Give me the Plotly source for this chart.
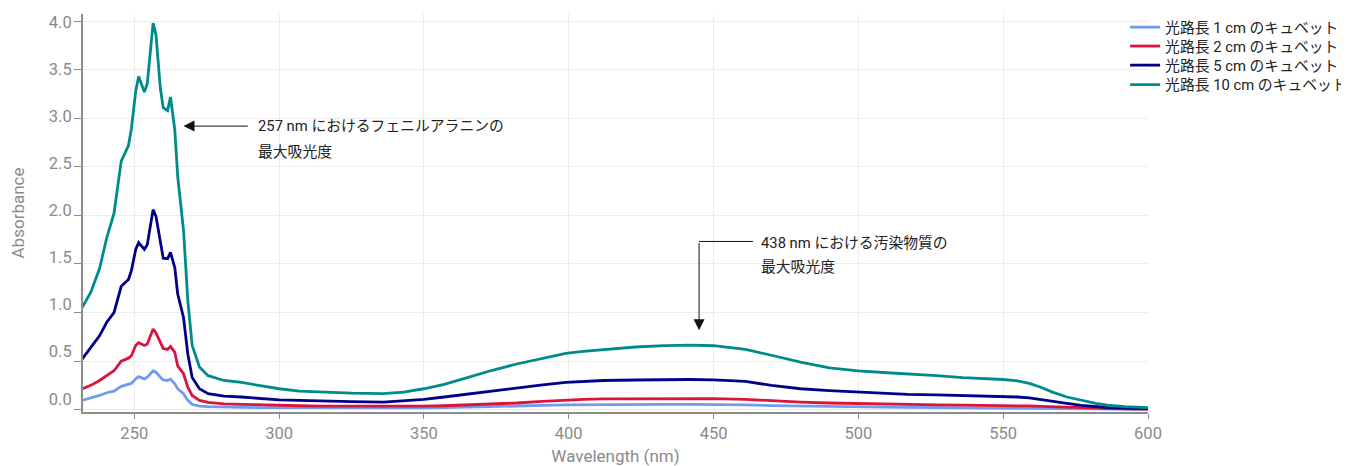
import plotly.graph_objects as go

wavelength = [232, 235, 238, 240.5, 243, 245.5, 248, 249, 250.5, 251.5, 253.5, 254.5,
              256.5, 257.5, 259, 260, 261.5, 262.5, 264, 265, 267, 268.5, 270, 272.5,
              275.5, 281, 287, 293, 300, 307, 315, 325, 336, 343, 350, 357, 365, 373,
              382, 391, 399, 405, 412, 423, 433, 442, 450, 461, 470, 480, 490, 500,
              510, 517, 527, 536, 543, 550, 555, 559, 563, 567, 572, 577, 582, 586,
              592, 600]

abs_1cm = [0.095, 0.12, 0.146, 0.174, 0.19, 0.24, 0.265, 0.27, 0.317, 0.34, 0.317, 0.334,
           0.40, 0.385, 0.334, 0.307, 0.30, 0.313, 0.265, 0.215, 0.164, 0.095, 0.054, 0.037,
           0.03, 0.025, 0.023, 0.021, 0.02, 0.019, 0.018, 0.018, 0.017, 0.017, 0.018, 0.02,
           0.024, 0.03, 0.036, 0.043, 0.049, 0.051, 0.053, 0.054, 0.055, 0.054, 0.053, 0.048,
           0.042, 0.036, 0.031, 0.027, 0.025, 0.023, 0.022, 0.021, 0.02, 0.02, 0.019, 0.017,
           0.014, 0.012, 0.01, 0.008, 0.006, 0.005, 0.004, 0.003]

abs_2cm = [0.215, 0.25, 0.30, 0.35, 0.40, 0.50, 0.53, 0.555, 0.66, 0.69, 0.66, 0.675,
           0.83, 0.79, 0.69, 0.63, 0.62, 0.65, 0.59, 0.45, 0.37, 0.23, 0.146, 0.095,
           0.075, 0.06, 0.054, 0.048, 0.044, 0.04, 0.037, 0.035, 0.034, 0.034, 0.035, 0.04,
           0.048, 0.058, 0.068, 0.085, 0.10, 0.105, 0.11, 0.113, 0.115, 0.115, 0.114, 0.105,
           0.09, 0.078, 0.068, 0.061, 0.055, 0.052, 0.048, 0.046, 0.045, 0.044, 0.042, 0.038,
           0.033, 0.028, 0.024, 0.02, 0.015, 0.012, 0.009, 0.006]

abs_5cm = [0.52, 0.64, 0.76, 0.90, 1.00, 1.27, 1.34, 1.43, 1.65, 1.72, 1.65, 1.70,
           2.06, 1.99, 1.73, 1.56, 1.555, 1.62, 1.46, 1.19, 0.95, 0.57, 0.33, 0.215,
           0.165, 0.14, 0.13, 0.115, 0.10, 0.095, 0.088, 0.082, 0.078, 0.088, 0.105, 0.13,
           0.16, 0.19, 0.225, 0.255, 0.28, 0.29, 0.30, 0.305, 0.31, 0.31, 0.307, 0.29,
           0.25, 0.215, 0.195, 0.18, 0.165, 0.158, 0.152, 0.146, 0.14, 0.136, 0.13, 0.12,
           0.105, 0.085, 0.065, 0.044, 0.03, 0.022, 0.015, 0.01]

abs_10cm = [1.05, 1.21, 1.45, 1.77, 2.02, 2.56, 2.72, 2.89, 3.28, 3.43, 3.27, 3.36,
            3.98, 3.86, 3.31, 3.11, 3.08, 3.22, 2.88, 2.40, 1.85, 1.12, 0.66, 0.44,
            0.35, 0.30, 0.28, 0.25, 0.215, 0.19, 0.18, 0.17, 0.165, 0.18, 0.215, 0.26,
            0.33, 0.40, 0.47, 0.53, 0.58, 0.60, 0.62, 0.645, 0.66, 0.665, 0.658, 0.62,
            0.56, 0.49, 0.43, 0.40, 0.38, 0.37, 0.35, 0.33, 0.32, 0.31, 0.295, 0.27,
            0.23, 0.18, 0.13, 0.095, 0.065, 0.045, 0.03, 0.02]

series_names = ["光路長 1 cm のキュベット", "光路長 2 cm のキュベット",
                "光路長 5 cm のキュベット", "光路長 10 cm のキュベット"]
series_values = [abs_1cm, abs_2cm, abs_5cm, abs_10cm]
series_colors = ["#6f9cf0", "#dc143c", "#00008b", "#008b8b"]

y_tick_vals = [0, 0.5, 1, 1.5, 2, 2.5, 3, 3.5, 4]
y_tick_text = ["0.0", "0.5", "1.0", "1.5", "2.0", "2.5", "3.0", "3.5", "4.0"]
x_tick_vals = [250, 300, 350, 400, 450, 500, 550, 600]

FONT = "Roboto, 'Noto Sans CJK JP', sans-serif"
GREY = "#8a8a8a"

legend_ids = ["legend", "legend2", "legend3", "legend4"]
legend_tops = [1.0075, 0.960, 0.912, 0.863]

fig = go.Figure()
for name, vals, col, lid in zip(series_names, series_values, series_colors, legend_ids):
    fig.add_trace(go.Scatter(x=wavelength, y=vals, name=name, mode="lines",
                             line=dict(color=col, width=2.8), legend=lid))
# helper trace for label axis
fig.add_trace(go.Scatter(x=[None], y=[None], yaxis="y2", showlegend=False,
                         hoverinfo="skip"))

fig.update_layout(
    width=1349, height=466,
    margin=dict(l=70, r=209, t=3, b=62),
    plot_bgcolor="white", paper_bgcolor="white",
    font=dict(family=FONT, size=14.8, color="#222"),
    xaxis=dict(range=[232.3, 600], tickvals=x_tick_vals, showgrid=True,
               gridcolor="#ececec", gridwidth=1, showline=True, linecolor="#8c8c8c",
               linewidth=1.5, ticks="outside", ticklen=5, tickcolor="#8c8c8c",
               tickfont=dict(size=16.5, color=GREY), zeroline=False,
               title=dict(text="Wavelength (nm)", font=dict(size=17, color=GREY),
                          standoff=9)),
    yaxis=dict(range=[-0.0245, 4.0747], tickvals=y_tick_vals, showticklabels=False,
               showgrid=True, gridcolor="#ececec", gridwidth=1, showline=True,
               linecolor="#8c8c8c", linewidth=1.5, ticks="outside", ticklen=7,
               tickcolor="#8c8c8c", zeroline=False),
    yaxis2=dict(range=[-0.141, 4.085], overlaying="y", side="left", anchor="x",
                tickvals=y_tick_vals, ticktext=y_tick_text, showgrid=False,
                showline=False, zeroline=False, ticks="outside", ticklen=7,
                tickcolor="rgba(0,0,0,0)", tickfont=dict(size=16.5, color=GREY),
                title=dict(text="Absorbance", font=dict(size=17, color=GREY),
                           standoff=26)),
    showlegend=True,
)
for lid, ytop in zip(legend_ids, legend_tops):
    fig.update_layout({lid: dict(x=0.9785, y=ytop, xanchor="left", yanchor="top",
                                 font=dict(size=14.8, color="#222"), itemwidth=30,
                                 bgcolor="rgba(0,0,0,0)")})

# annotation 1: arrow pointing left to phenylalanine peak
fig.add_annotation(x=267.0, y=2.92, ax=289.7, ay=2.92, axref="x", ayref="y",
                   xref="x", yref="y", text="", showarrow=True, arrowhead=2,
                   arrowsize=2.2, arrowwidth=1, arrowcolor="#111")
fig.add_annotation(x=291.9, y=2.925, xref="x", yref="y", xanchor="left",
                   text="257 nm におけるフェニルアラニンの", showarrow=False,
                   font=dict(size=14.8, color="#222"))
fig.add_annotation(x=291.9, y=2.655, xref="x", yref="y", xanchor="left",
                   text="最大吸光度", showarrow=False, font=dict(size=14.8, color="#222"))

# annotation 2: elbow arrow pointing down to contaminant peak
fig.add_shape(type="line", x0=445.0, y0=1.732, x1=463.6, y1=1.732, xref="x", yref="y",
              line=dict(color="#111", width=1))
fig.add_annotation(x=445.0, y=0.818, ax=445.0, ay=1.732, axref="x", ayref="y",
                   xref="x", yref="y", text="", showarrow=True, arrowhead=2,
                   arrowsize=2.2, arrowwidth=1, arrowcolor="#111")
fig.add_annotation(x=465.6, y=1.715, xref="x", yref="y", xanchor="left",
                   text="438 nm における汚染物質の", showarrow=False,
                   font=dict(size=14.8, color="#222"))
fig.add_annotation(x=465.6, y=1.465, xref="x", yref="y", xanchor="left",
                   text="最大吸光度", showarrow=False, font=dict(size=14.8, color="#222"))

fig.write_html("out.html")
